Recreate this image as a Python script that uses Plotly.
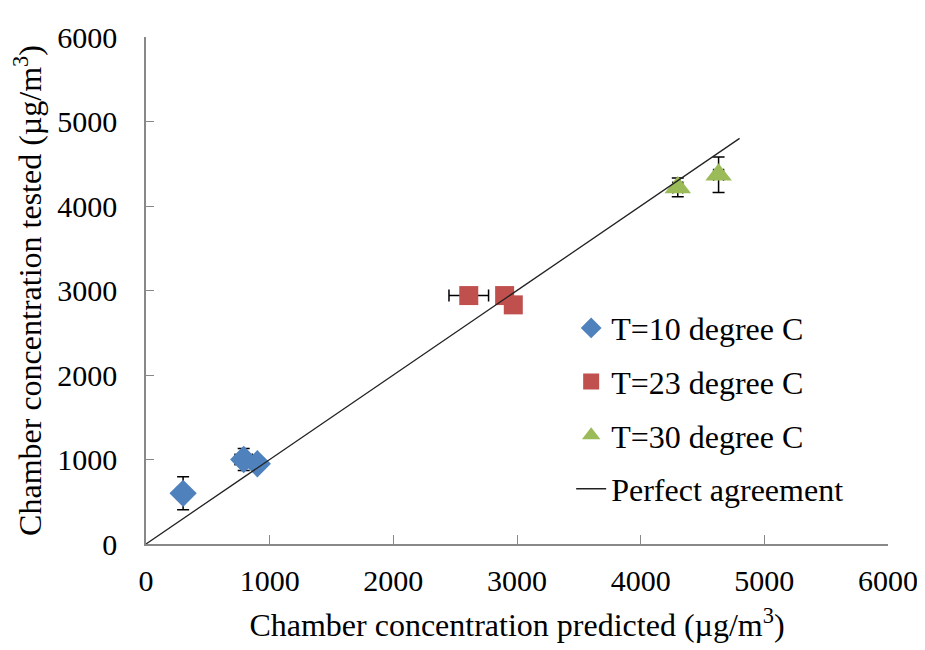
import plotly.graph_objects as go

# T=10 degree C
x10 = [300, 790, 900]
y10 = [600, 1000, 950]
ey10 = [195, 130, 0]
ex10 = [0, 70, 0]

# T=23 degree C
x23 = [2610, 2900, 2970]
y23 = [2940, 2940, 2830]
ey23 = [60, 60, 0]
ex23 = [160, 0, 0]

# T=30 degree C
x30 = [4300, 4630]
y30 = [4220, 4370]
ey30 = [110, 210]
ex30 = [40, 40]

# Perfect agreement line
line_x = [0, 4800]
line_y = [0, 4800]

xticks = [0, 1000, 2000, 3000, 4000, 5000, 6000]
yticks = [0, 1000, 2000, 3000, 4000, 5000, 6000]

FONT = "Liberation Serif, Times New Roman, serif"

fig = go.Figure()

def series(x, y, ex, ey, name, color, symbol, size, group):
    fig.add_trace(go.Scatter(
        x=x, y=y, mode="markers", name=name, legendgroup=group,
        marker=dict(color=color, symbol=symbol, size=size),
        error_y=dict(type="data", array=ey, visible=True, color="black", thickness=1.5, width=6),
        error_x=dict(type="data", array=ex, visible=True, color="black", thickness=1.5, width=6),
    ))

series(x10, y10, ex10, ey10, "T=10 degree C", "#4F81BD", "diamond", 21, "a")
series(x23, y23, ex23, ey23, "T=23 degree C", "#C0504D", "square", 19, "b")
series(x30, y30, ex30, ey30, "T=30 degree C", "#9BBB59", "triangle-up", 23, "c")

fig.add_trace(go.Scatter(
    x=line_x, y=line_y, mode="lines", name="Perfect agreement", legendgroup="d",
    line=dict(color="#222222", width=1.3),
))

fig.update_layout(
    width=925, height=650,
    margin=dict(l=138, r=45, t=14, b=114),
    paper_bgcolor="white", plot_bgcolor="white",
    font=dict(family=FONT, size=30, color="black"),
    showlegend=True,
    legend=dict(
        x=0.573, y=0.48, xanchor="left", yanchor="top",
        font=dict(family=FONT, size=32, color="black"),
        traceorder="grouped", tracegroupgap=9,
        bgcolor="rgba(0,0,0,0)",
    ),
    xaxis=dict(
        range=[0, 6000], tickvals=xticks, ticks="inside", ticklen=9, tickcolor="#888888",
        showline=True, linecolor="#888888", linewidth=1.5, showgrid=False, zeroline=False,
        tickfont=dict(family=FONT, size=30), ticklabelstandoff=9, ticklabeloverflow="allow",
        title=dict(text="Chamber concentration predicted (µg/m<sup>3</sup>)",
                   font=dict(family=FONT, size=32), standoff=18),
    ),
    yaxis=dict(
        range=[0, 6000], tickvals=yticks, ticks="inside", ticklen=8, tickcolor="#888888",
        showline=True, linecolor="#888888", linewidth=1.5, showgrid=False, zeroline=False,
        tickfont=dict(family=FONT, size=30), ticklabelstandoff=21, ticklabeloverflow="allow",
        title=dict(text="Chamber concentration tested (µg/m<sup>3</sup>)",
                   font=dict(family=FONT, size=32), standoff=8),
    ),
)

fig.write_html("out.html")
